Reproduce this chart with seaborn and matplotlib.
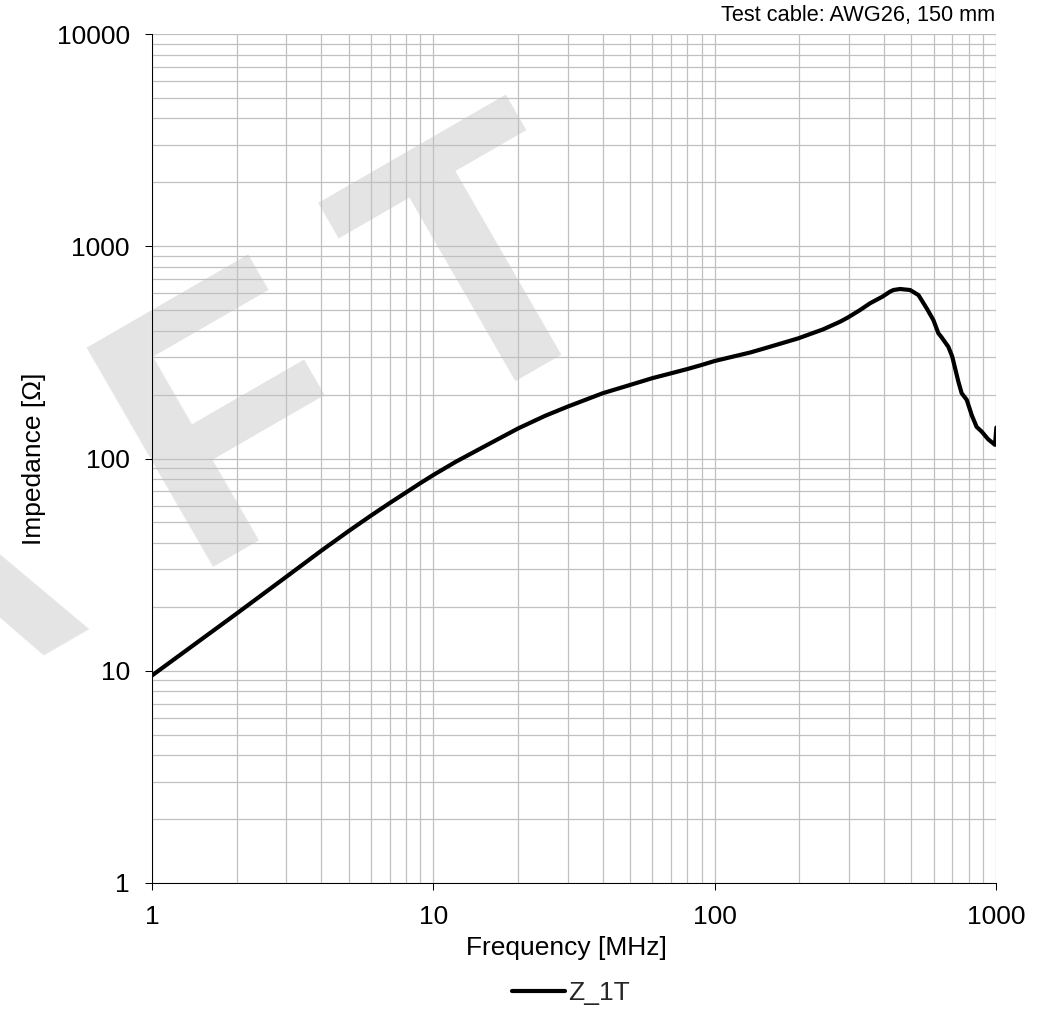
import numpy as np
import pandas as pd
import matplotlib
matplotlib.use("Agg")
import matplotlib.pyplot as plt
import matplotlib.ticker as mticker
import seaborn as sns

# Impedance curve (frequency in MHz, impedance in Ohm)
freq = [1, 2, 3, 4, 5, 6, 7, 8, 9, 10, 12, 15, 20, 25, 30, 40, 50, 60, 70, 80, 90, 100,
        134, 150, 198, 243, 279, 297, 329, 357, 395, 420, 432, 456, 495, 530, 567,
        599, 624, 641, 677, 699, 735, 755, 787, 820, 853, 889, 939, 992, 1003]
imp = [9.5, 18.6, 27.7, 36.8, 45.5, 53.8, 61.7, 69.2, 76.6, 83.6, 96.4, 113, 138.5, 159,
       175.5, 203, 222, 239, 252, 264, 276, 288, 316, 330, 368, 406, 441, 461, 501, 539,
       579, 611, 622, 629, 622, 589, 510, 449, 389, 372, 336, 302, 230, 203, 189,
       160, 141, 134, 123, 116, 140]

x_ticks = [1, 10, 100, 1000]
x_labels = ["1", "10", "100", "1000"]
y_ticks = [1, 10, 100, 1000, 10000]
y_labels = ["1", "10", "100", "1000", "10000"]

df = pd.DataFrame({"Frequency": freq, "Impedance": imp})

sns.set_theme(style="white")
plt.rcParams["font.family"] = ["Liberation Sans", "DejaVu Sans"]

fig = plt.figure(figsize=(10.44, 10.09), dpi=100)
fig.patch.set_facecolor("white")
ax = fig.add_axes([152 / 1044, 1 - 883 / 1009, 844 / 1044, 849 / 1009])
ax.set_facecolor("none")

# "DRAFT" watermark, behind the axes; letters spaced along a 30 degree baseline
W, H = 1044, 1009
ang = np.deg2rad(30)
x0, y0 = 212, 554  # baseline point in pixels (from top left)
wm_size = 265
em = wm_size * 100 / 72
for letter, t in [("D", -1050), ("R", -720), ("A", -133 - 0.722 * em),
                  ("F", -0.073 * em), ("T", 272 - 0.022 * em)]:
    px = x0 + t * np.cos(ang)
    py = y0 - t * np.sin(ang)
    fig.text(px / W, 1 - py / H, letter, fontsize=wm_size, fontweight="bold",
             color="#e4e4e4", rotation=30, rotation_mode="anchor",
             ha="left", va="baseline", zorder=-5)

sns.lineplot(data=df, x="Frequency", y="Impedance", ax=ax, color="black",
             linewidth=3, estimator=None, sort=False, label="Z_1T", zorder=5)

ax.set_xscale("log")
ax.set_yscale("log")
ax.set_xlim(1, 1000)
ax.set_ylim(1, 10000)

ax.xaxis.set_major_locator(mticker.FixedLocator(x_ticks))
ax.xaxis.set_major_formatter(mticker.FixedFormatter(x_labels))
ax.yaxis.set_major_locator(mticker.FixedLocator(y_ticks))
ax.yaxis.set_major_formatter(mticker.FixedFormatter(y_labels))
ax.xaxis.set_minor_locator(mticker.LogLocator(base=10, subs=range(2, 10)))
ax.yaxis.set_minor_locator(mticker.LogLocator(base=10, subs=range(2, 10)))
ax.xaxis.set_minor_formatter(mticker.NullFormatter())
ax.yaxis.set_minor_formatter(mticker.NullFormatter())

ax.grid(True, which="both", color="#c0c0c0", linewidth=0.9)
ax.tick_params(which="major", length=5, width=0.75, color="black", direction="out",
               labelsize=19, pad=11, bottom=True, left=True, labelcolor="black")
ax.tick_params(which="minor", length=0)

for side in ["top", "right"]:
    ax.spines[side].set_visible(False)
for side in ["left", "bottom"]:
    ax.spines[side].set_color("black")
    ax.spines[side].set_linewidth(0.75)

ax.set_xlabel("Frequency [MHz]", fontsize=19, color="black")
ax.xaxis.set_label_coords((566 - 152) / 844, -(936 - 883) / 849)
ax.set_ylabel("Impedance [\u03a9]", fontsize=19, color="black")
ax.yaxis.set_label_coords((46 - 152) / 844, 0.5)

ax.legend(loc="center", bbox_to_anchor=(571 / W, 1 - 993 / H),
          bbox_transform=fig.transFigure, frameon=False, fontsize=19,
          handlelength=2.0, handletextpad=0.1)

fig.text(995 / W, 1 - 21 / H, "Test cable: AWG26, 150 mm", fontsize=15.7,
         ha="right", va="baseline", color="black")

fig.savefig("out.png", dpi=100)
